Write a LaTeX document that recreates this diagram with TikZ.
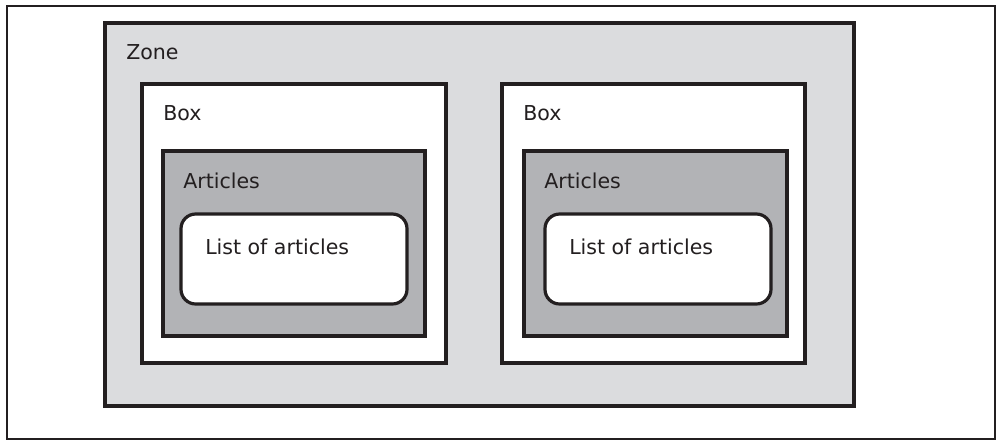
\documentclass[tikz,border=0pt]{standalone}
\usepackage{fontspec}
\setmainfont{DejaVu Sans}
\definecolor{zonegray}{HTML}{DBDCDE}
\definecolor{artgray}{HTML}{B2B3B6}
\definecolor{ink}{HTML}{231F20}
\begin{document}
\begin{tikzpicture}[x=0.75pt, y=-0.75pt,
  frame/.style={draw=ink, line width=1.3pt},
  part/.style={draw=ink, line width=2.4pt},
  lbl/.style={anchor=base west, inner sep=0pt, text=ink, font=\fontsize{15.4}{18}\selectfont}]
\useasboundingbox (0,0) rectangle (997,440);
\draw[frame, fill=white] (7,6) rectangle (995,439);
% zone
\draw[part, fill=zonegray] (105,23) rectangle (854,406);
\node[lbl] (zone) at (126,59) {Zone};
% left box
\draw[part, fill=white] (142,84) rectangle (446,363);
\node[lbl] (boxa) at (163,120) {Box};
\draw[part, fill=artgray] (163,151) rectangle (425,336);
\node[lbl] (arta) at (183,188) {Articles};
\draw[part, fill=white, rounded corners=11pt] (181,214) rectangle (407,304);
\node[lbl] (lista) at (205,254) {List of articles};
% right box
\draw[part, fill=white] (502,84) rectangle (805,363);
\node[lbl] (boxb) at (523,120) {Box};
\draw[part, fill=artgray] (524,151) rectangle (787,336);
\node[lbl] (artb) at (544,188) {Articles};
\draw[part, fill=white, rounded corners=11pt] (545,214) rectangle (771,304);
\node[lbl] (listb) at (569,254) {List of articles};
\end{tikzpicture}
\end{document}
